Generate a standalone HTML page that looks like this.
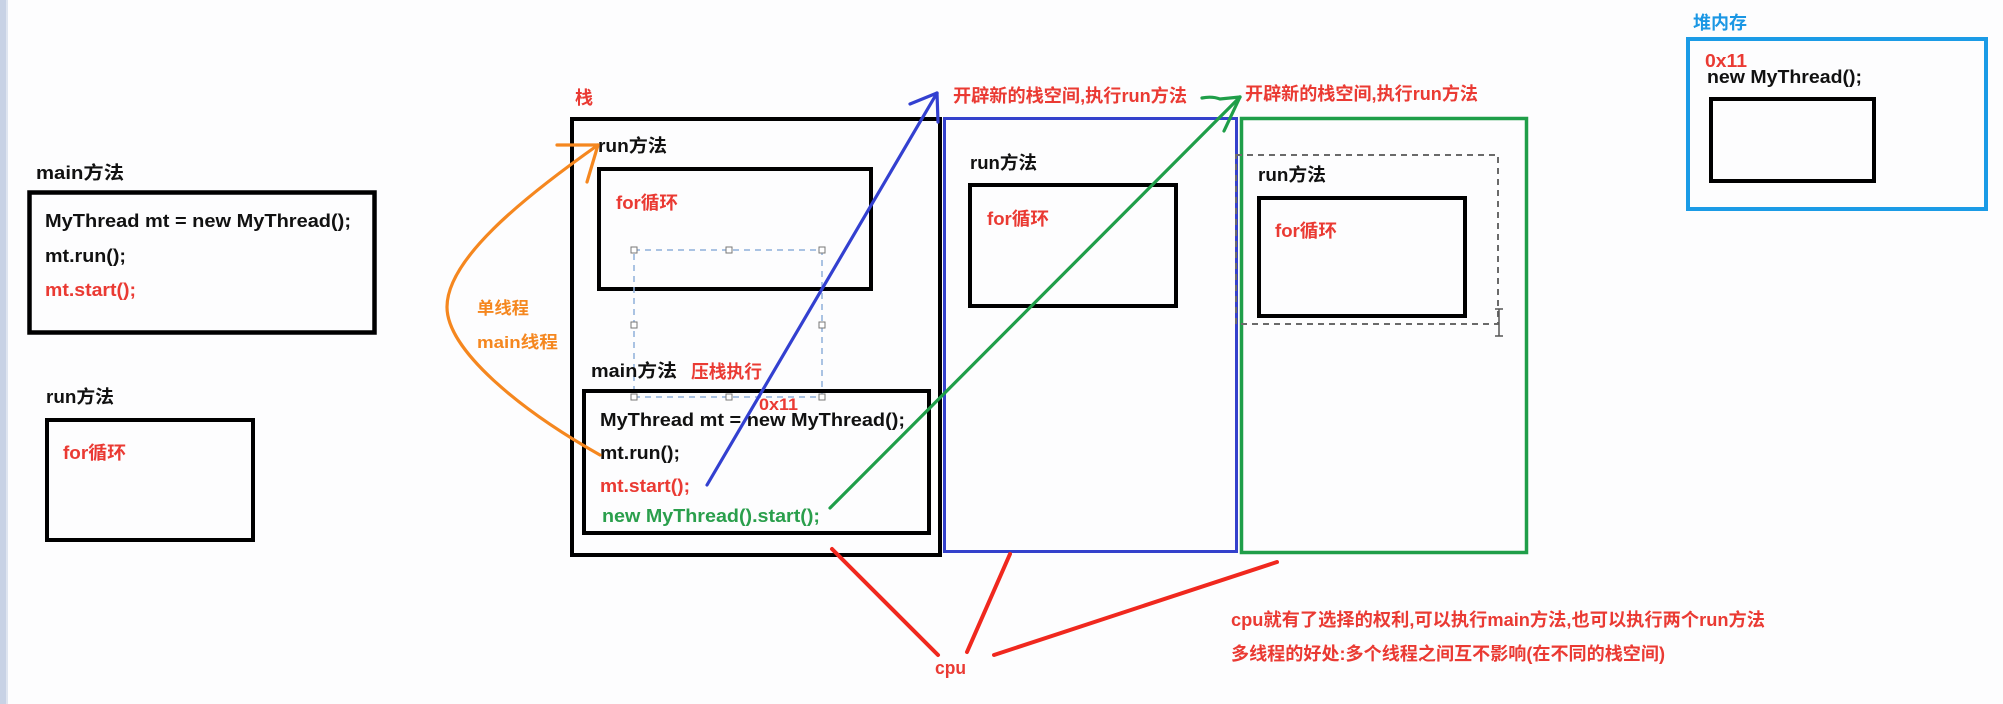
<!DOCTYPE html>
<html>
<head>
<meta charset="utf-8">
<style>
html,body{margin:0;padding:0;background:#fdfdfe;}
svg{display:block;}
text{font-family:"Liberation Sans","Noto Sans CJK SC",sans-serif;font-weight:bold;}
</style>
</head>
<body>
<svg width="2003" height="704" viewBox="0 0 2003 704" xmlns="http://www.w3.org/2000/svg">
  <rect x="0" y="0" width="2003" height="704" fill="#fdfdfe"/>
  <!-- left stripe -->
  <rect x="0" y="0" width="6" height="704" fill="#c8d2e5"/>
  <rect x="6" y="0" width="2" height="704" fill="#dfe5f0"/>

  <!-- ============ LEFT: main方法 ============ -->
  <text x="36" y="179" font-size="18" fill="#111" textLength="88" lengthAdjust="spacingAndGlyphs">main方法</text>
  <rect x="29.5" y="192.5" width="345" height="140" fill="none" stroke="#000" stroke-width="4.5"/>
  <text x="45" y="227" font-size="18" fill="#111" textLength="306" lengthAdjust="spacingAndGlyphs">MyThread mt = new MyThread();</text>
  <text x="45" y="262" font-size="18" fill="#111" textLength="81" lengthAdjust="spacingAndGlyphs">mt.run();</text>
  <text x="45" y="296" font-size="18" fill="#ea3a33" textLength="91" lengthAdjust="spacingAndGlyphs">mt.start();</text>

  <!-- LEFT: run方法 -->
  <text x="46" y="403" font-size="18" fill="#111" textLength="68" lengthAdjust="spacingAndGlyphs">run方法</text>
  <rect x="47" y="420" width="206" height="120" fill="none" stroke="#000" stroke-width="4"/>
  <text x="63" y="459" font-size="18" fill="#ea3a33" textLength="63" lengthAdjust="spacingAndGlyphs">for循环</text>

  <!-- ============ STACK ============ -->
  <text x="575" y="104" font-size="18" fill="#ea3a33">栈</text>
  <rect x="572" y="119" width="368" height="436" fill="none" stroke="#000" stroke-width="4"/>
  <text x="598" y="152" font-size="18" fill="#111" textLength="69" lengthAdjust="spacingAndGlyphs">run方法</text>
  <rect x="599" y="169" width="272" height="120" fill="none" stroke="#000" stroke-width="4"/>
  <text x="616" y="209" font-size="18" fill="#ea3a33" textLength="62" lengthAdjust="spacingAndGlyphs">for循环</text>

  <!-- selection dashed box -->
  <rect x="634" y="250" width="188" height="147" fill="none" stroke="#8fb0da" stroke-width="1.5" stroke-dasharray="6 5"/>
  <g fill="#fff" stroke="#777" stroke-width="1">
    <rect x="631" y="247" width="6" height="6"/>
    <rect x="726" y="247" width="6" height="6"/>
    <rect x="819" y="247" width="6" height="6"/>
    <rect x="631" y="322" width="6" height="6"/>
    <rect x="819" y="322" width="6" height="6"/>
    <rect x="631" y="394" width="6" height="6"/>
    <rect x="726" y="394" width="6" height="6"/>
    <rect x="819" y="394" width="6" height="6"/>
  </g>

  <text x="591" y="377" font-size="18" fill="#111" textLength="86" lengthAdjust="spacingAndGlyphs">main方法</text>
  <text x="691" y="378" font-size="18" fill="#ea3a33" textLength="71" lengthAdjust="spacingAndGlyphs">压栈执行</text>
  <rect x="584" y="391" width="345" height="142" fill="none" stroke="#000" stroke-width="4"/>
  <text x="759" y="410" font-size="17" fill="#ea3a33" textLength="39" lengthAdjust="spacingAndGlyphs">0x11</text>
  <text x="600" y="426" font-size="18" fill="#111" textLength="305" lengthAdjust="spacingAndGlyphs">MyThread mt = new MyThread();</text>
  <text x="600" y="459" font-size="18" fill="#111" textLength="80" lengthAdjust="spacingAndGlyphs">mt.run();</text>
  <text x="600" y="492" font-size="18" fill="#ea3a33" textLength="90" lengthAdjust="spacingAndGlyphs">mt.start();</text>
  <text x="602" y="522" font-size="18" fill="#2a9f4c" textLength="218" lengthAdjust="spacingAndGlyphs">new MyThread().start();</text>

  <!-- ============ BLUE STACK ============ -->
  <rect x="944.5" y="118.5" width="292" height="433" fill="none" stroke="#3441cc" stroke-width="3"/>
  <text x="953" y="102" font-size="18" fill="#ea3a33" textLength="234" lengthAdjust="spacingAndGlyphs">开辟新的栈空间,执行run方法</text>
  <text x="970" y="169" font-size="18" fill="#111" textLength="67" lengthAdjust="spacingAndGlyphs">run方法</text>
  <rect x="970" y="185" width="206" height="121" fill="none" stroke="#000" stroke-width="4"/>
  <text x="987" y="225" font-size="18" fill="#ea3a33" textLength="62" lengthAdjust="spacingAndGlyphs">for循环</text>

  <!-- ============ GREEN STACK ============ -->
  <rect x="1241.5" y="118.5" width="285" height="434" fill="none" stroke="#1f9e49" stroke-width="3.5"/>
  <text x="1245" y="100" font-size="18" fill="#ea3a33" textLength="233" lengthAdjust="spacingAndGlyphs">开辟新的栈空间,执行run方法</text>
  <rect x="1236" y="155" width="262" height="169" fill="none" stroke="#6a6a6a" stroke-width="2" stroke-dasharray="6 5"/>
  <text x="1258" y="181" font-size="18" fill="#111" textLength="68" lengthAdjust="spacingAndGlyphs">run方法</text>
  <rect x="1259" y="198" width="206" height="118" fill="none" stroke="#000" stroke-width="4"/>
  <text x="1275" y="237" font-size="18" fill="#ea3a33" textLength="62" lengthAdjust="spacingAndGlyphs">for循环</text>
  <!-- I-beam cursor -->
  <g stroke="#555" stroke-width="1.5" fill="none">
    <line x1="1499" y1="309" x2="1499" y2="336"/>
    <line x1="1495" y1="309" x2="1503" y2="309"/>
    <line x1="1495" y1="336" x2="1503" y2="336"/>
  </g>

  <!-- ============ HEAP ============ -->
  <text x="1693" y="29" font-size="18" fill="#1b97e4" textLength="54" lengthAdjust="spacingAndGlyphs">堆内存</text>
  <rect x="1688" y="39" width="298" height="170" fill="none" stroke="#1b9be6" stroke-width="4"/>
  <text x="1705" y="67" font-size="18" fill="#ea3a33" textLength="42" lengthAdjust="spacingAndGlyphs">0x11</text>
  <text x="1707" y="83" font-size="18" fill="#111" textLength="155" lengthAdjust="spacingAndGlyphs">new MyThread();</text>
  <rect x="1711" y="99" width="163" height="82" fill="none" stroke="#000" stroke-width="4"/>

  <!-- ============ ORANGE CURVE ============ -->
  <g stroke="#f5871f" stroke-width="3.2" fill="none" stroke-linecap="round">
    <path d="M600,455 C520,410 447,350 447,307 C447,260 520,200 598,145"/>
    <line x1="557" y1="145" x2="598" y2="145"/>
    <line x1="598" y1="145" x2="587" y2="182"/>
  </g>
  <text x="477" y="314" font-size="17" fill="#f5871f" textLength="52" lengthAdjust="spacingAndGlyphs">单线程</text>
  <text x="477" y="348" font-size="17" fill="#f5871f" textLength="81" lengthAdjust="spacingAndGlyphs">main线程</text>

  <!-- ============ BLUE ARROW ============ -->
  <g stroke="#3340d0" stroke-width="3.2" fill="none" stroke-linecap="round">
    <line x1="707" y1="485" x2="937" y2="93"/>
    <line x1="910" y1="104" x2="937" y2="93"/>
    <line x1="937" y1="93" x2="938" y2="122"/>
  </g>

  <!-- ============ GREEN ARROW ============ -->
  <g stroke="#1f9e49" stroke-width="3.2" fill="none" stroke-linecap="round">
    <line x1="830" y1="508" x2="1240" y2="97"/>
    <path d="M1202,98 Q1212,96 1220,99 L1240,97"/>
    <line x1="1240" y1="97" x2="1224" y2="131"/>
  </g>

  <!-- ============ CPU LINES ============ -->
  <g stroke="#f0281e" stroke-width="4" fill="none" stroke-linecap="round">
    <line x1="832" y1="549" x2="938" y2="655"/>
    <line x1="1010" y1="554" x2="967" y2="652"/>
    <line x1="1277" y1="562" x2="994" y2="655"/>
  </g>
  <text x="935" y="674" font-size="18" fill="#ea3a33" textLength="31" lengthAdjust="spacingAndGlyphs">cpu</text>

  <!-- bottom notes -->
  <text x="1231" y="626" font-size="18" fill="#ea3a33" textLength="534" lengthAdjust="spacingAndGlyphs">cpu就有了选择的权利,可以执行main方法,也可以执行两个run方法</text>
  <text x="1231" y="660" font-size="18" fill="#ea3a33" textLength="434" lengthAdjust="spacingAndGlyphs">多线程的好处:多个线程之间互不影响(在不同的栈空间)</text>
</svg>
</body>
</html>
